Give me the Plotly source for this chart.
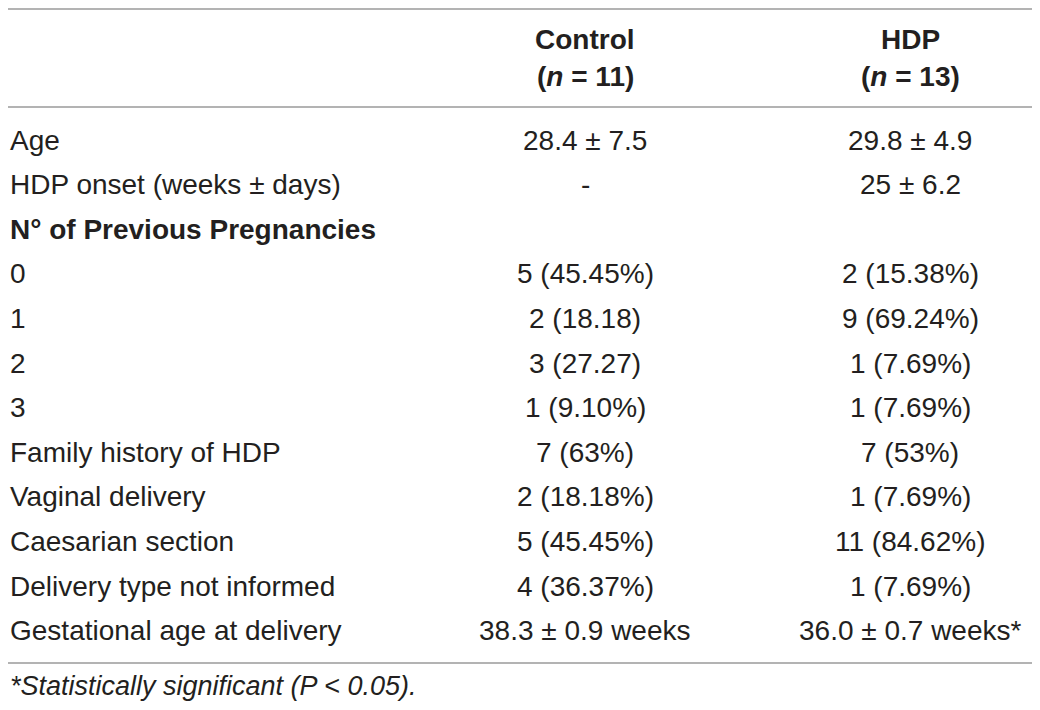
import plotly.graph_objects as go

# table contents
row_labels = ["Age", "HDP onset (weeks ± days)", "N° of Previous Pregnancies", "0", "1", "2", "3",
              "Family history of HDP", "Vaginal delivery", "Caesarian section",
              "Delivery type not informed", "Gestational age at delivery"]
control_vals = ["28.4 ± 7.5", "-", "", "5 (45.45%)", "2 (18.18)", "3 (27.27)", "1 (9.10%)",
                "7 (63%)", "2 (18.18%)", "5 (45.45%)", "4 (36.37%)", "38.3 ± 0.9 weeks"]
hdp_vals = ["29.8 ± 4.9", "25 ± 6.2", "", "2 (15.38%)", "9 (69.24%)", "1 (7.69%)", "1 (7.69%)",
            "7 (53%)", "1 (7.69%)", "11 (84.62%)", "1 (7.69%)", "36.0 ± 0.7 weeks*"]
bold_rows = ["N° of Previous Pregnancies"]
col_heads = ["Control", "HDP"]
col_n = [11, 13]
footnote = "*Statistically significant (P < 0.05)."

FONT = "Liberation Sans, Arial, sans-serif"
COLOR = "#231f20"
SIZE = 28

# page has an 8px body margin, so axes are shifted to keep data units = page pixels
W, H, OFF = 1032, 702, 8

fig = go.Figure()
fig.add_trace(go.Scatter(x=[OFF, 1040], y=[OFF, 710], mode="markers",
                         marker=dict(opacity=0), hoverinfo="skip", showlegend=False))

col_x = [585, 910]
row_y0, row_step = 140, 44.6

ann = []
for k, head in enumerate(col_heads):
    ann.append(dict(x=col_x[k], y=39, text=f"<b>{head}</b>", xanchor="center"))
    ann.append(dict(x=col_x[k], y=76, text=f"<b>(<i>n</i> = {col_n[k]})</b>", xanchor="center"))

for i, lab in enumerate(row_labels):
    y = row_y0 + row_step * i
    txt = f"<b>{lab}</b>" if lab in bold_rows else lab
    ann.append(dict(x=OFF + 0.1, y=y, text=txt, xanchor="left"))
    if control_vals[i]:
        ann.append(dict(x=col_x[0], y=y, text=control_vals[i], xanchor="center"))
    if hdp_vals[i]:
        ann.append(dict(x=col_x[1], y=y, text=hdp_vals[i], xanchor="center"))

ann.append(dict(x=OFF + 0.1, y=686, text=f"<i>{footnote}</i>", xanchor="left", size=27))

annotations = []
for a in ann:
    annotations.append(dict(x=a["x"], y=a["y"], xref="x", yref="y", text=a["text"],
                            xanchor=a["xanchor"], yanchor="middle", showarrow=False,
                            font=dict(family=FONT, size=a.get("size", SIZE), color=COLOR)))

line_style = dict(color="#9a9a9a", width=1.5)
shapes = [dict(type="line", xref="x", yref="y", x0=OFF, x1=1034, y0=yy, y1=yy, line=line_style)
          for yy in (9, 107, 663)]

fig.update_layout(
    width=W, height=H,
    margin=dict(l=0, r=0, t=0, b=0),
    paper_bgcolor="white", plot_bgcolor="white",
    xaxis=dict(range=[OFF, 1040], visible=False, fixedrange=True),
    yaxis=dict(range=[710, OFF], visible=False, fixedrange=True),
    annotations=annotations, shapes=shapes,
)

fig.write_html("out.html")
